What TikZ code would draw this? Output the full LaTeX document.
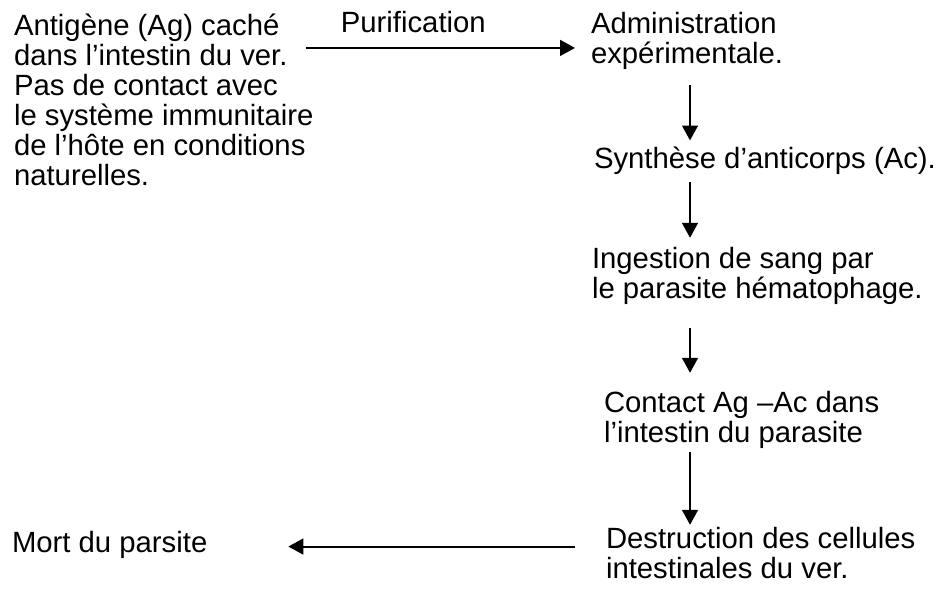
\documentclass[tikz,border=0pt]{standalone}
\usepackage{fontspec}
\setmainfont{Liberation Sans}
\usetikzlibrary{arrows.meta,calc}

\begin{document}
\begin{tikzpicture}[x=0.016cm, y=-0.016cm, font=\fontsize{13.34}{13.66}\selectfont,
txt/.style={inner sep=0pt, outer sep=0pt, align=left, anchor=base west},
flow/.style={-{Triangle[length=6.8pt, width=7.2pt]}, line width=0.9pt},]
 \useasboundingbox (0,0) rectangle (936,590);
 \coordinate (spine) at (690,0);

 % multi-line nodes sit on the baseline of their last line
 \node[txt] (antigen) at (14,185) {Antigène (Ag) caché\\dans l’intestin du ver.\\Pas de contact avec\\le système immunitaire\\de l’hôte en conditions\\naturelles.};
 \node[txt] (admin) at (591,63) {Administration\\expérimentale.};
 \node[txt] (synth) at (594,168) {Synthèse d’anticorps (Ac).};
 \node[txt] (ingest) at (592,298) {Ingestion de sang par\\le parasite hématophage.};
 \node[txt] (contact) at (604,442) {Contact Ag –Ac dans\\l’intestin du parasite};
 \node[txt] (destr) at (606,578) {Destruction des cellules\\intestinales du ver.};
 \node[txt] (mort) at (12,552) {Mort du parsite};

 \draw[flow] ($(antigen.east |- admin.west)+(-8,7.5)$) -- node[txt, anchor=base, pos=0.4, yshift=15*0.4553pt] (purif) {Purification} ($(admin.west)+(-16,7.5)$);
 \draw[flow] ($(admin.south -| spine)+(0,16)$) -- ($(synth.north -| spine)+(0,-6)$);
 \draw[flow] ($(synth.south -| spine)+(0,8)$) -- ($(ingest.north -| spine)+(0,-9)$);
 \draw[flow] ($(ingest.south -| spine)+(0,24)$) -- ($(contact.north -| spine)+(0,-18)$);
 \draw[flow] ($(contact.south -| spine)+(0,4)$) -- ($(destr.north -| spine)+(0,-2)$);
 \draw[flow] ($(destr.west)+(-31,-6)$) -- ($(mort.east |- destr.west)+(81,-6)$);
\end{tikzpicture}
\end{document}
